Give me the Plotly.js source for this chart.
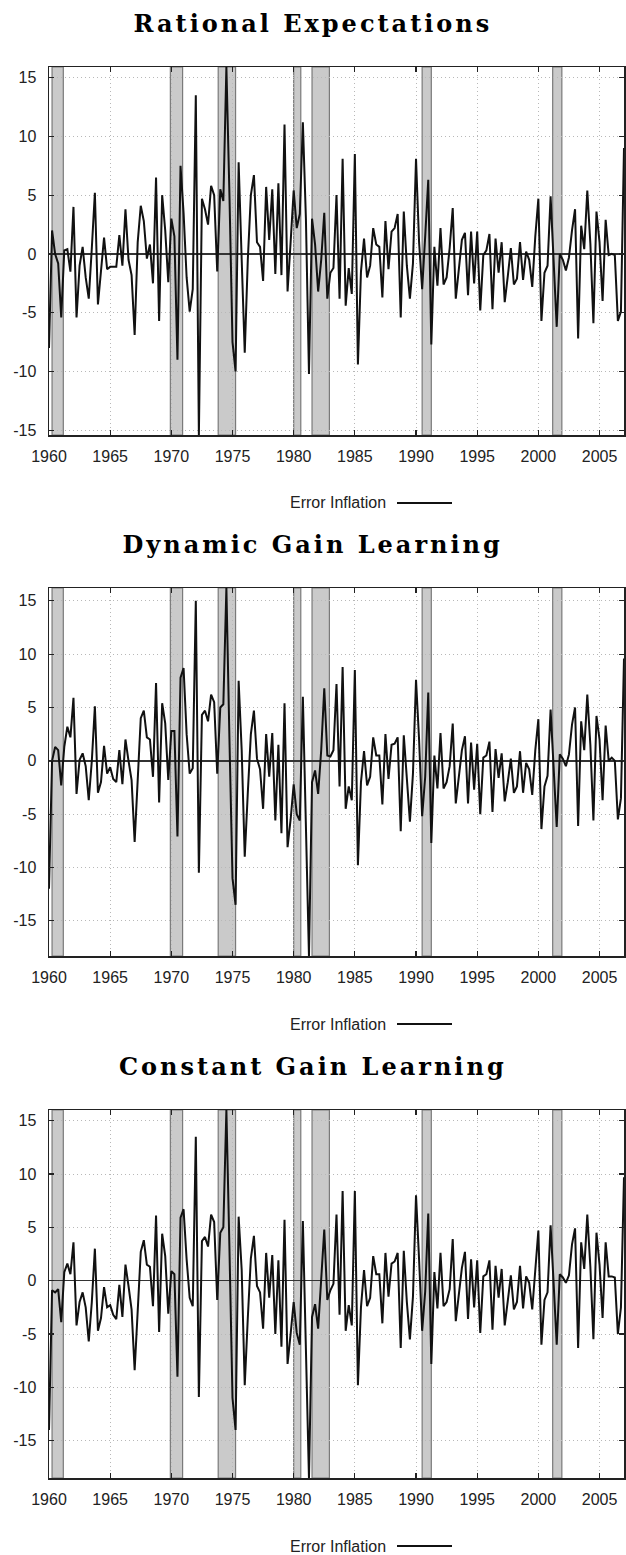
<!DOCTYPE html>
<html><head><meta charset="utf-8">
<script src="https://cdn.plot.ly/plotly-3.0.1.min.js"></script>
<style>body{margin:0;background:#fff;overflow:hidden}</style>
</head><body><div id="chart" style="width:626px;height:1555px"></div>
<script>
const startYear = 1960;
const panelTitles = ["Rational Expectations", "Dynamic Gain Learning", "Constant Gain Learning"];
const seriesName = "Error Inflation";

const rationalExpectations = [
-8.0,2.0,0.0,-0.8,-5.4,0.3,0.4,-1.5,4.0,-5.4,
-1.0,0.6,-2.0,-3.8,0.5,5.2,-4.3,-1.5,1.4,-1.3,
-1.1,-1.1,-1.1,1.6,-1.0,3.8,-0.5,-1.8,-6.9,1.0,
4.1,2.8,-0.4,0.8,-2.5,6.5,-5.7,5.0,2.0,-2.4,
3.0,1.5,-9.0,7.5,3.5,-2.0,-4.9,-3.0,13.5,-15.4,
4.7,3.8,2.5,5.8,5.0,-1.5,5.5,4.5,15.9,5.0,
-7.5,-10.0,7.8,-0.5,-8.4,-0.5,5.0,6.7,1.0,0.6,
-2.3,5.7,1.2,5.5,-1.7,6.0,-1.8,11.0,-3.2,1.0,
5.4,2.2,3.4,11.2,3.0,-10.2,3.0,0.8,-3.2,-0.5,
3.5,-3.8,-1.6,-1.2,5.0,-3.8,8.1,-4.4,-1.2,-3.4,
8.5,-9.4,-1.5,1.3,-2.0,-1.0,2.2,0.8,0.6,-3.7,
2.8,-1.3,1.9,2.2,3.4,-5.4,3.6,-1.0,-3.8,-0.8,
8.1,1.0,-3.0,1.5,6.3,-7.7,0.6,-2.7,2.2,-2.6,
-2.0,0.5,3.9,-3.8,-1.0,1.2,1.8,-3.5,1.9,-2.5,
1.9,-4.8,-0.1,0.3,1.7,-4.7,1.3,-1.6,1.0,-4.1,
-1.9,0.5,-2.6,-2.1,1.0,-2.2,0.2,-0.5,-2.8,1.5,
4.7,-5.7,-1.6,-1.0,4.9,-0.5,-6.2,0.0,-0.5,-1.4,
-0.3,2.0,3.8,-7.2,2.4,0.4,5.4,0.9,-5.9,3.6,
1.0,-4.0,2.9,-0.1,0.0,-0.1,-5.7,-4.9,9.0];

const dynamicGain = [
-12.0,0.0,1.3,1.0,-2.3,1.3,3.2,2.2,5.9,-3.1,
0.1,0.7,-0.5,-3.7,0.0,5.1,-3.0,-2.0,1.4,-1.2,
-0.6,-1.7,-2.0,1.0,-2.2,2.0,0.0,-1.8,-7.6,-1.5,
4.0,4.7,2.2,2.0,-1.5,7.3,-3.9,5.4,3.5,-1.8,
2.8,2.8,-7.1,7.8,8.7,2.5,-1.2,-0.7,15.0,-10.5,
4.3,4.7,3.7,6.2,5.5,-1.2,5.0,5.3,16.2,2.0,
-11.0,-13.5,7.5,1.0,-9.0,-3.0,2.5,4.7,0.2,-0.8,
-4.5,2.5,-1.5,2.6,-5.6,1.5,-6.8,5.4,-8.1,-5.5,
-2.2,-5.0,-5.6,6.0,-5.0,-18.3,-2.0,-0.9,-3.1,1.0,
6.8,0.5,0.4,1.0,7.2,-2.4,8.8,-4.5,-2.4,-3.7,
8.5,-9.8,-2.0,0.9,-2.3,-1.5,2.2,0.5,0.5,-4.1,
2.5,-1.7,1.5,1.6,2.2,-6.6,2.4,-2.0,-5.7,-1.2,
7.6,2.0,-5.2,-1.5,6.4,-7.7,0.5,-2.6,2.6,-2.6,
-2.0,-0.5,3.5,-4.0,-1.5,1.0,2.3,-4.0,1.7,-2.7,
1.6,-5.0,0.3,0.5,1.8,-4.8,1.1,-1.6,0.7,-3.8,
-2.0,0.2,-3.0,-2.4,0.9,-3.0,-0.2,-0.8,-3.2,1.0,
3.9,-6.4,-2.4,-1.4,4.8,-0.5,-6.2,0.6,0.2,-0.5,
0.6,3.4,5.0,-6.1,3.7,1.0,6.2,1.5,-5.6,4.2,
2.0,-3.7,3.3,0.0,0.3,0.0,-5.5,-3.5,9.6];

const constantGain = [
-14.0,-0.9,-1.1,-0.8,-3.9,0.8,1.6,0.6,3.6,-4.2,
-2.0,-1.1,-2.5,-5.7,-2.0,3.0,-4.7,-3.5,-0.6,-2.5,
-2.3,-3.2,-3.6,-0.4,-3.4,1.5,-0.5,-2.7,-8.4,-2.5,
2.7,3.8,1.5,1.3,-2.4,6.1,-4.8,4.4,2.3,-3.1,
0.9,0.6,-9.0,5.9,6.7,2.0,-1.6,-2.4,13.5,-10.9,
3.7,4.1,3.2,6.2,5.5,-1.8,4.5,5.0,16.0,3.0,
-11.0,-14.0,6.0,1.0,-9.8,-3.5,2.1,4.2,-0.5,-1.1,
-4.5,2.6,-1.6,2.4,-5.0,1.9,-6.2,5.7,-7.8,-5.0,
-2.0,-4.9,-6.0,5.6,-5.5,-18.5,-3.4,-2.2,-4.5,0.5,
4.8,-1.8,-0.9,-0.3,6.2,-3.2,8.4,-4.7,-2.3,-4.2,
8.4,-9.8,-2.5,1.0,-2.4,-1.6,2.3,0.6,0.6,-4.0,
2.6,-1.5,1.6,1.8,2.6,-6.3,2.8,-2.0,-5.5,-1.5,
8.0,2.0,-4.7,-1.0,6.3,-7.8,0.8,-2.6,2.6,-2.4,
-2.0,-0.8,3.9,-3.8,-1.2,1.2,2.7,-3.6,2.0,-2.5,
1.9,-4.9,0.4,0.6,1.9,-4.6,1.4,-1.6,1.1,-4.2,
-1.9,0.5,-2.7,-2.0,1.4,-2.6,0.4,-0.2,-2.7,1.2,
4.7,-6.0,-1.8,-1.1,5.2,-0.3,-6.0,0.6,0.3,-0.2,
0.5,3.4,4.9,-6.3,3.6,1.1,6.2,1.3,-5.5,4.5,
1.5,-3.5,3.6,0.4,0.4,0.3,-5.0,-2.5,9.7];

const recessionStart = [1960.25, 1969.92, 1973.83, 1980.0, 1981.5, 1990.5, 2001.17];
const recessionEnd   = [1961.17, 1970.92, 1975.25, 1980.58, 1982.92, 1991.25, 2001.92];

const xTickVals = [1960,1965,1970,1975,1980,1985,1990,1995,2000,2005];
const yTickVals = [-15,-10,-5,0,5,10,15];
const yTickText = ["-15","-10","-5","0","5","10","15"];
const xRange = [1960, 2007];
const yRanges = [[-15.4,15.9],[-18.3,16.2],[-18.5,16.0]];

const allSeries = [rationalExpectations, dynamicGain, constantGain];
const quarters = rationalExpectations.map((_, i) => startYear + i / 4);

const W = 626, H = 1555;
const plotLeft = 49, plotRight = 624;
const plotTops = [67, 588, 1110];
const plotH = 368;

const traces = [];
const layout = {
  width: W, height: H,
  margin: {l:0, r:0, t:0, b:0},
  paper_bgcolor: '#fff', plot_bgcolor: '#fff',
  showlegend: false,
  font: {family: 'Liberation Sans, Arial, sans-serif', size: 16, color: '#222'},
  shapes: [], annotations: []
};

allSeries.forEach((vals, k) => {
  const sfx = k === 0 ? '' : String(k + 1);
  traces.push({
    x: quarters, y: vals, type: 'scatter', mode: 'lines',
    name: seriesName,
    line: {color: '#111', width: 2},
    xaxis: 'x' + sfx, yaxis: 'y' + sfx,
    hoverinfo: 'x+y'
  });
  const top = plotTops[k];
  const y0 = 1 - (top + plotH) / H, y1 = 1 - top / H;
  layout['xaxis' + sfx] = {
    domain: [plotLeft / W, plotRight / W], anchor: 'y' + sfx,
    range: xRange, tickvals: xTickVals,
    showline: true, linecolor: '#222', linewidth: 1.5, mirror: 'ticks',
    ticks: 'inside', ticklen: 5, tickwidth: 1.2, tickcolor: '#222',
    showgrid: true, gridcolor: '#b8b8b8', griddash: '1px,3px', gridwidth: 1,
    zeroline: false, ticklabelstandoff: 6,
    tickfont: {family: 'Liberation Sans, Arial, sans-serif', size: 16, color: '#222'}
  };
  layout['yaxis' + sfx] = {
    domain: [y0, y1], anchor: 'x' + sfx,
    range: yRanges[k], tickvals: yTickVals, ticktext: yTickText,
    showline: true, linecolor: '#222', linewidth: 1.5, mirror: 'ticks',
    ticks: 'inside', ticklen: 5, tickwidth: 1.2, tickcolor: '#222',
    showgrid: true, gridcolor: '#b8b8b8', griddash: '1px,3px', gridwidth: 1,
    zeroline: true, zerolinecolor: '#333', zerolinewidth: 1.5,
    ticklabelstandoff: 8,
    tickfont: {family: 'Liberation Sans, Arial, sans-serif', size: 16, color: '#222'}
  };
  recessionStart.forEach((s, r) => {
    layout.shapes.push({
      type: 'rect', xref: 'x' + sfx, yref: 'y' + sfx + ' domain',
      x0: s, x1: recessionEnd[r], y0: 0, y1: 1,
      fillcolor: '#cacaca', line: {color: '#7a7a7a', width: 1.2}, layer: 'below'
    });
  });
  layout.annotations.push({
    xref: 'paper', yref: 'paper', x: 0.5, y: 1 - (top - 44) / H,
    xanchor: 'center', yanchor: 'middle', showarrow: false,
    text: '<b>' + panelTitles[k] + '</b>',
    font: {family: 'DejaVu Serif, serif', size: 24, color: '#000'}
  });
  const legY = 1 - (top + 436) / H;
  layout.annotations.push({
    xref: 'paper', yref: 'paper', x: 388 / W, y: legY,
    xanchor: 'right', yanchor: 'middle', showarrow: false,
    text: seriesName,
    font: {family: 'Liberation Sans, Arial, sans-serif', size: 16, color: '#222'}
  });
  layout.shapes.push({
    type: 'line', xref: 'paper', yref: 'paper',
    x0: 397 / W, x1: 452 / W, y0: legY, y1: legY,
    line: {color: '#111', width: 2}
  });
});

Plotly.newPlot('chart', traces, layout, {staticPlot: true}).then(() => {
  document.querySelectorAll('.annotation-text').forEach(t => {
    if (panelTitles.indexOf(t.textContent) >= 0) {
      t.style.letterSpacing = '3px';
    }
  });
});
</script></body></html>
